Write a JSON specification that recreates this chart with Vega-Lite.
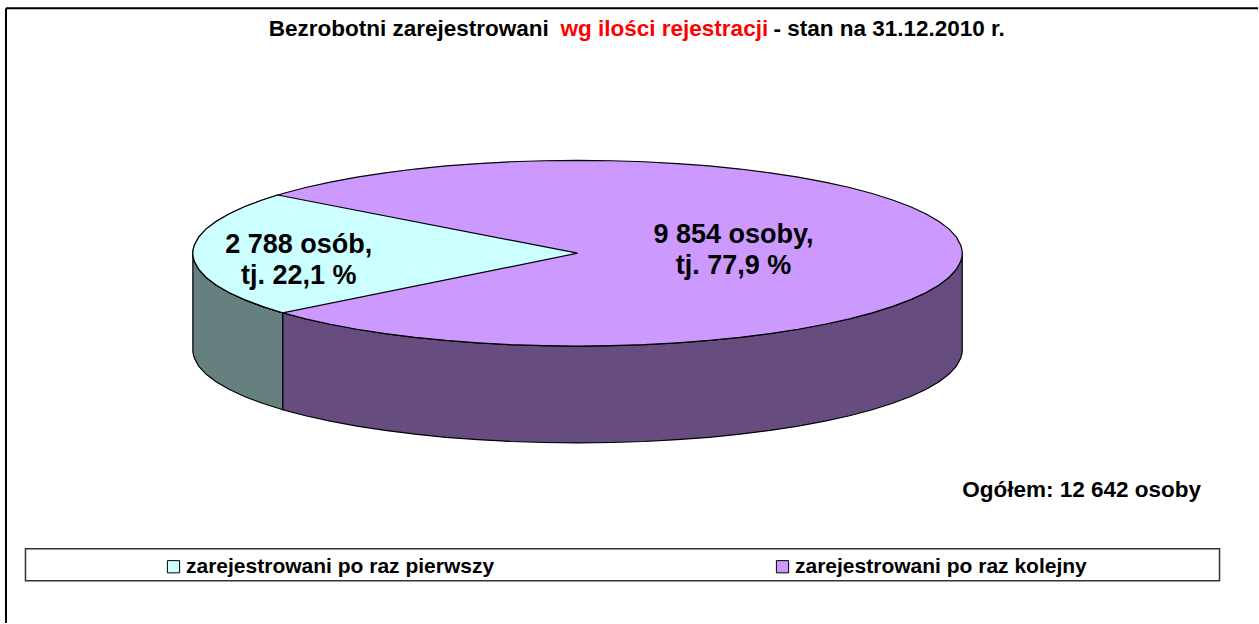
{
"$schema":"https://vega.github.io/schema/vega-lite/v6.json",
"width":1259,"height":624,"padding":0,
"autosize":{"type":"fit","contains":"padding"},
"background":"white",
"config":{"view":{"stroke":null}},
"datasets":{
"faceTop":[
{"slice":"zarejestrowani po raz kolejny","x":193,"y":253,"y2":253},
{"slice":"zarejestrowani po raz kolejny","x":193.2,"y":249.8,"y2":256.2},
{"slice":"zarejestrowani po raz kolejny","x":194.5,"y":244.9,"y2":261.1},
{"slice":"zarejestrowani po raz kolejny","x":198.8,"y":236.9,"y2":269.1},
{"slice":"zarejestrowani po raz kolejny","x":206.1,"y":228.9,"y2":277.1},
{"slice":"zarejestrowani po raz kolejny","x":216.2,"y":221.2,"y2":284.8},
{"slice":"zarejestrowani po raz kolejny","x":229.1,"y":213.7,"y2":292.3},
{"slice":"zarejestrowani po raz kolejny","x":244.6,"y":206.5,"y2":299.5},
{"slice":"zarejestrowani po raz kolejny","x":262.6,"y":199.7,"y2":306.3},
{"slice":"zarejestrowani po raz kolejny","x":283.1,"y":193.2,"y2":312.8},
{"slice":"zarejestrowani po raz kolejny","x":305.8,"y":187.2,"y2":318.8},
{"slice":"zarejestrowani po raz kolejny","x":330.5,"y":181.8,"y2":324.2},
{"slice":"zarejestrowani po raz kolejny","x":357.2,"y":176.8,"y2":329.2},
{"slice":"zarejestrowani po raz kolejny","x":385.5,"y":172.5,"y2":333.5},
{"slice":"zarejestrowani po raz kolejny","x":415.3,"y":168.7,"y2":337.3},
{"slice":"zarejestrowani po raz kolejny","x":446.3,"y":165.6,"y2":340.4},
{"slice":"zarejestrowani po raz kolejny","x":478.4,"y":163.2,"y2":342.8},
{"slice":"zarejestrowani po raz kolejny","x":511.2,"y":161.4,"y2":344.6},
{"slice":"zarejestrowani po raz kolejny","x":544.4,"y":160.4,"y2":345.6},
{"slice":"zarejestrowani po raz kolejny","x":578,"y":160,"y2":346},
{"slice":"zarejestrowani po raz kolejny","x":611.6,"y":160.4,"y2":345.6},
{"slice":"zarejestrowani po raz kolejny","x":644.8,"y":161.4,"y2":344.6},
{"slice":"zarejestrowani po raz kolejny","x":677.6,"y":163.2,"y2":342.8},
{"slice":"zarejestrowani po raz kolejny","x":709.7,"y":165.6,"y2":340.4},
{"slice":"zarejestrowani po raz kolejny","x":740.7,"y":168.7,"y2":337.3},
{"slice":"zarejestrowani po raz kolejny","x":770.5,"y":172.5,"y2":333.5},
{"slice":"zarejestrowani po raz kolejny","x":798.8,"y":176.8,"y2":329.2},
{"slice":"zarejestrowani po raz kolejny","x":825.5,"y":181.8,"y2":324.2},
{"slice":"zarejestrowani po raz kolejny","x":850.2,"y":187.2,"y2":318.8},
{"slice":"zarejestrowani po raz kolejny","x":872.9,"y":193.2,"y2":312.8},
{"slice":"zarejestrowani po raz kolejny","x":893.4,"y":199.7,"y2":306.3},
{"slice":"zarejestrowani po raz kolejny","x":911.4,"y":206.5,"y2":299.5},
{"slice":"zarejestrowani po raz kolejny","x":926.9,"y":213.7,"y2":292.3},
{"slice":"zarejestrowani po raz kolejny","x":939.8,"y":221.2,"y2":284.8},
{"slice":"zarejestrowani po raz kolejny","x":949.9,"y":228.9,"y2":277.1},
{"slice":"zarejestrowani po raz kolejny","x":957.2,"y":236.9,"y2":269.1},
{"slice":"zarejestrowani po raz kolejny","x":961.5,"y":244.9,"y2":261.1},
{"slice":"zarejestrowani po raz kolejny","x":962.8,"y":249.8,"y2":256.2},
{"slice":"zarejestrowani po raz kolejny","x":963,"y":253,"y2":253}
],
"faceFirst":[
{"slice":"zarejestrowani po raz pierwszy","x":193,"y":253,"y2":253},
{"slice":"zarejestrowani po raz pierwszy","x":193.2,"y":249.8,"y2":256.2},
{"slice":"zarejestrowani po raz pierwszy","x":194.5,"y":244.9,"y2":261.1},
{"slice":"zarejestrowani po raz pierwszy","x":198.8,"y":236.9,"y2":269.1},
{"slice":"zarejestrowani po raz pierwszy","x":206.1,"y":228.9,"y2":277.1},
{"slice":"zarejestrowani po raz pierwszy","x":216.2,"y":221.2,"y2":284.8},
{"slice":"zarejestrowani po raz pierwszy","x":229.1,"y":213.7,"y2":292.3},
{"slice":"zarejestrowani po raz pierwszy","x":244.6,"y":206.5,"y2":299.5},
{"slice":"zarejestrowani po raz pierwszy","x":262.6,"y":199.7,"y2":306.3},
{"slice":"zarejestrowani po raz pierwszy","x":278,"y":194.7,"y2":311.3},
{"slice":"zarejestrowani po raz pierwszy","x":283,"y":195.7,"y2":312.8},
{"slice":"zarejestrowani po raz pierwszy","x":578,"y":253,"y2":253}
],
"sideFirst":[
{"x":193,"y":253,"y2":350},
{"x":193.2,"y":256.2,"y2":353.2},
{"x":194.5,"y":261.1,"y2":358.1},
{"x":198.8,"y":269.1,"y2":366.1},
{"x":206.1,"y":277.1,"y2":374.1},
{"x":216.2,"y":284.8,"y2":381.8},
{"x":229.1,"y":292.3,"y2":389.3},
{"x":244.6,"y":299.5,"y2":396.5},
{"x":262.6,"y":306.3,"y2":403.3},
{"x":283.1,"y":312.8,"y2":409.8}
],
"sideNext":[
{"x":283.1,"y":312.8,"y2":409.8},
{"x":305.8,"y":318.8,"y2":415.8},
{"x":330.5,"y":324.2,"y2":421.2},
{"x":357.2,"y":329.2,"y2":426.2},
{"x":385.5,"y":333.5,"y2":430.5},
{"x":415.3,"y":337.3,"y2":434.3},
{"x":446.3,"y":340.4,"y2":437.4},
{"x":478.4,"y":342.8,"y2":439.8},
{"x":511.2,"y":344.6,"y2":441.6},
{"x":544.4,"y":345.6,"y2":442.6},
{"x":578,"y":346,"y2":443},
{"x":611.6,"y":345.6,"y2":442.6},
{"x":644.8,"y":344.6,"y2":441.6},
{"x":677.6,"y":342.8,"y2":439.8},
{"x":709.7,"y":340.4,"y2":437.4},
{"x":740.7,"y":337.3,"y2":434.3},
{"x":770.5,"y":333.5,"y2":430.5},
{"x":798.8,"y":329.2,"y2":426.2},
{"x":825.5,"y":324.2,"y2":421.2},
{"x":850.2,"y":318.8,"y2":415.8},
{"x":872.9,"y":312.8,"y2":409.8},
{"x":893.4,"y":306.3,"y2":403.3},
{"x":911.4,"y":299.5,"y2":396.5},
{"x":926.9,"y":292.3,"y2":389.3},
{"x":939.8,"y":284.8,"y2":381.8},
{"x":949.9,"y":277.1,"y2":374.1},
{"x":957.2,"y":269.1,"y2":366.1},
{"x":961.5,"y":261.1,"y2":358.1},
{"x":962.8,"y":256.2,"y2":353.2},
{"x":963,"y":253,"y2":350}
],
"labels":[
{"x":299,"y":252.5,"t":"2 788 osób,"},
{"x":299,"y":283.5,"t":"tj. 22,1 %"},
{"x":734,"y":242.5,"t":"9 854 osoby,"},
{"x":734,"y":273.5,"t":"tj. 77,9 %"}
]
},
"data":{"name":"faceTop"},
"layer":[
{"data":{"values":[{"x":6,"x2":1259,"y":7.6}]},"mark":{"type":"rule","stroke":"#000000","strokeWidth":2},
 "encoding":{"x":{"field":"x","type":"quantitative","scale":{"domain":[0,1259],"nice":false,"zero":false},"axis":null},"x2":{"field":"x2"},"y":{"field":"y","type":"quantitative","scale":{"domain":[623.4,-0.6],"nice":false,"zero":false},"axis":null}}},
{"data":{"values":[{"x":6,"y":7.6,"y2":623.4}]},"mark":{"type":"rule","stroke":"#000000","strokeWidth":2},
 "encoding":{"x":{"field":"x","type":"quantitative"},"y":{"field":"y","type":"quantitative"},"y2":{"field":"y2"}}},
{"data":{"values":[{"x":25.5,"x2":1220.5,"y":549,"y2":581}]},"mark":{"type":"rect","fill":"#ffffff","stroke":"#333333","strokeWidth":1.5},
 "encoding":{"x":{"field":"x","type":"quantitative"},"x2":{"field":"x2"},"y":{"field":"y","type":"quantitative"},"y2":{"field":"y2"}}},
{"data":{"name":"sideFirst"},"mark":{"type":"area","fill":"#667F7F","stroke":"#000000","strokeWidth":1.2},
 "encoding":{"x":{"field":"x","type":"quantitative"},"y":{"field":"y","type":"quantitative"},"y2":{"field":"y2"}}},
{"data":{"name":"sideNext"},"mark":{"type":"area","fill":"#664C7F","stroke":"#000000","strokeWidth":1.2},
 "encoding":{"x":{"field":"x","type":"quantitative"},"y":{"field":"y","type":"quantitative"},"y2":{"field":"y2"}}},
{"data":{"name":"faceTop"},"mark":{"type":"area","stroke":"#000000","strokeWidth":1.2},
 "encoding":{"x":{"field":"x","type":"quantitative"},"y":{"field":"y","type":"quantitative"},"y2":{"field":"y2"},
 "color":{"field":"slice","type":"nominal","scale":{"domain":["zarejestrowani po raz pierwszy","zarejestrowani po raz kolejny"],"range":["#CCFFFF","#CC99FF"]},
 "legend":{"title":null,"orient":"none","legendX":163,"legendY":556,"direction":"horizontal","columns":2,"columnPadding":277,"padding":0,"symbolType":"square","symbolSize":150,"symbolStrokeColor":"#000000","symbolStrokeWidth":1,"symbolOpacity":1,"labelFont":"Liberation Sans","labelFontWeight":"bold","labelFontSize":21,"labelColor":"#000000","labelLimit":400,"labelOffset":2,"zindex":1}}}},
{"data":{"name":"faceFirst"},"mark":{"type":"area","stroke":"#000000","strokeWidth":1.2},
 "encoding":{"x":{"field":"x","type":"quantitative"},"y":{"field":"y","type":"quantitative"},"y2":{"field":"y2"},
 "color":{"field":"slice","type":"nominal"}}},
{"data":{"name":"labels"},"mark":{"type":"text","font":"Liberation Sans","fontWeight":"bold","fontSize":27,"align":"center","baseline":"alphabetic","color":"#000000"},
 "encoding":{"x":{"field":"x","type":"quantitative"},"y":{"field":"y","type":"quantitative"},"text":{"field":"t"}}},
{"data":{"values":[
{"x":269,"y":35.5,"t":"Bezrobotni zarejestrowani","c":"#000000"},
{"x":561,"y":35.5,"t":"wg ilości rejestracji","c":"#FF0000"},
{"x":774,"y":35.5,"t":"- stan na 31.12.2010 r.","c":"#000000"}
]},"mark":{"type":"text","font":"Liberation Sans","fontWeight":"bold","fontSize":22.5,"align":"left","baseline":"alphabetic"},
 "encoding":{"x":{"field":"x","type":"quantitative"},"y":{"field":"y","type":"quantitative"},"text":{"field":"t"},"color":{"field":"c","type":"nominal","scale":null}}},
{"data":{"values":[{"x":1202,"y":497.5,"t":"Ogółem: 12 642 osoby"}]},"mark":{"type":"text","font":"Liberation Sans","fontWeight":"bold","fontSize":22.5,"align":"right","baseline":"alphabetic","color":"#000000"},
 "encoding":{"x":{"field":"x","type":"quantitative"},"y":{"field":"y","type":"quantitative"},"text":{"field":"t"}}}
],
"resolve":{"scale":{"x":"shared","y":"shared"}}
}
